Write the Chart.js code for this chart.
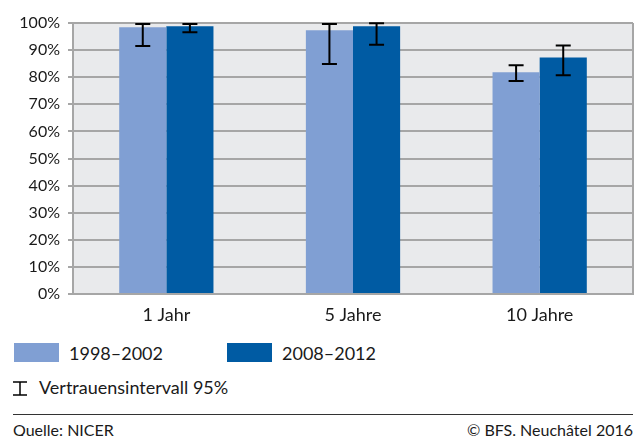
<!DOCTYPE html>
<html>
<head>
<meta charset="utf-8">
<script src="https://cdn.jsdelivr.net/npm/chart.js@4.4.0/dist/chart.umd.min.js"></script>
<style>
    body { margin: 0; background: #fff; font-family: Lato, sans-serif; color: #1a1a1a; }
    #wrap { position: relative; width: 640px; height: 436px; overflow: hidden; }
    #chartBox { position: absolute; left: 0; top: 0; width: 640px; height: 330px; }
    .swatch { position: absolute; width: 45px; height: 19px; }
    .lbl { position: absolute; font-size: 18px; line-height: 20px; white-space: nowrap; }
    .foot { position: absolute; font-size: 16px; line-height: 16px; white-space: nowrap; }
</style>
</head>
<body>
<div id="wrap">
    <div id="chartBox"><canvas id="chart" width="640" height="330"></canvas></div>

    <div class="swatch" style="left:14px; top:343px; background:#809fd3;"></div>
    <div class="lbl" style="left:69px; top:343px;">1998–2002</div>
    <div class="swatch" style="left:227px; top:343px; background:#005ba3;"></div>
    <div class="lbl" style="left:282px; top:343px;">2008–2012</div>

    <svg style="position:absolute; left:12px; top:381px;" width="16" height="16">
        <line x1="1" y1="1" x2="15" y2="1" stroke="#000" stroke-width="1.5"/>
        <line x1="8" y1="1" x2="8" y2="14" stroke="#000" stroke-width="1.5"/>
        <line x1="1" y1="14" x2="15" y2="14" stroke="#000" stroke-width="1.5"/>
    </svg>
    <div class="lbl" style="left:39px; top:377px;">Vertrauensintervall 95%</div>

    <div style="position:absolute; left:13px; top:414px; width:620px; height:1.3px; background:#333;"></div>
    <div class="foot" style="left:13px; top:422px;">Quelle: NICER</div>
    <div class="foot" style="right:7px; top:422px;">© BFS. Neuchâtel 2016</div>
</div>

<script>
// Données
const categories = ['1 Jahr', '5 Jahre', '10 Jahre'];
const labelsSeries = ['1998–2002', '2008–2012'];

const values1998 = [98.4, 97.3, 81.8];
const low1998 = [91.5, 84.9, 78.6];
const high1998 = [99.6, 99.6, 84.4];

const values2008 = [98.8, 98.8, 87.3];
const low2008 = [96.6, 92.0, 80.7];
const high2008 = [99.6, 99.9, 91.7];

const yTicks = [0, 10, 20, 30, 40, 50, 60, 70, 80, 90, 100];

// Fond gris de la zone du graphique + bordure droite
const plotBackground = {
    id: 'plotBackground',
    beforeDraw(chart) {
        const { ctx, chartArea } = chart;
        ctx.save();
        ctx.fillStyle = '#e9eaec';
        ctx.fillRect(chartArea.left, chartArea.top, chartArea.right - chartArea.left, chartArea.bottom - chartArea.top);
        ctx.restore();
    },
    afterDraw(chart) {
        const { ctx, chartArea } = chart;
        ctx.save();
        ctx.strokeStyle = '#a6a6a6';
        ctx.lineWidth = 2;
        ctx.beginPath();
        ctx.moveTo(chartArea.right, chartArea.top);
        ctx.lineTo(chartArea.right, chartArea.bottom);
        ctx.stroke();
        ctx.restore();
    }
};

// Barres d'erreur (intervalle de confiance)
const errorBars = {
    id: 'errorBars',
    afterDatasetsDraw(chart) {
        const { ctx } = chart;
        const y = chart.scales.y;
        ctx.save();
        ctx.strokeStyle = '#000';
        ctx.lineWidth = 2;
        chart.data.datasets.forEach((ds, i) => {
            const meta = chart.getDatasetMeta(i);
            meta.data.forEach((bar, j) => {
                const x = bar.x;
                const yLow = y.getPixelForValue(ds.errLow[j]);
                const yHigh = y.getPixelForValue(ds.errHigh[j]);
                ctx.beginPath();
                ctx.moveTo(x, yLow);
                ctx.lineTo(x, yHigh);
                ctx.moveTo(x - 7.5, yLow);
                ctx.lineTo(x + 7.5, yLow);
                ctx.moveTo(x - 7.5, yHigh);
                ctx.lineTo(x + 7.5, yHigh);
                ctx.stroke();
            });
        });
        ctx.restore();
    }
};

const ctx = document.getElementById('chart').getContext('2d');
new Chart(ctx, {
    type: 'bar',
    data: {
        labels: categories,
        datasets: [{
            label: labelsSeries[0],
            data: values1998,
            errLow: low1998,
            errHigh: high1998,
            backgroundColor: '#809fd3',
            barPercentage: 1,
            categoryPercentage: 0.505
        }, {
            label: labelsSeries[1],
            data: values2008,
            errLow: low2008,
            errHigh: high2008,
            backgroundColor: '#005ba3',
            barPercentage: 1,
            categoryPercentage: 0.505
        }]
    },
    options: {
        responsive: false,
        animation: false,
        layout: { padding: { top: 23, right: 7, bottom: 0, left: 0 } },
        plugins: {
            legend: { display: false },
            tooltip: { enabled: false }
        },
        scales: {
            x: {
                afterFit(scale) { scale.height = 36; },
                grid: { display: false, drawTicks: false },
                border: { color: '#a6a6a6', width: 2 },
                ticks: { color: '#1a1a1a', font: { family: 'Lato', size: 18 }, padding: 10 }
            },
            y: {
                min: 0,
                max: 100,
                afterFit(scale) { scale.width = 73; },
                afterBuildTicks(scale) { scale.ticks = yTicks.map(v => ({ value: v })); },
                grid: { color: '#a6a6a6', lineWidth: 2, tickLength: 5 },
                border: { color: '#a6a6a6', width: 2 },
                ticks: {
                    color: '#1a1a1a',
                    font: { family: 'Lato', size: 16 },
                    padding: 8,
                    callback: v => v + '%'
                }
            }
        }
    },
    plugins: [plotBackground, errorBars]
});
</script>
</body>
</html>
